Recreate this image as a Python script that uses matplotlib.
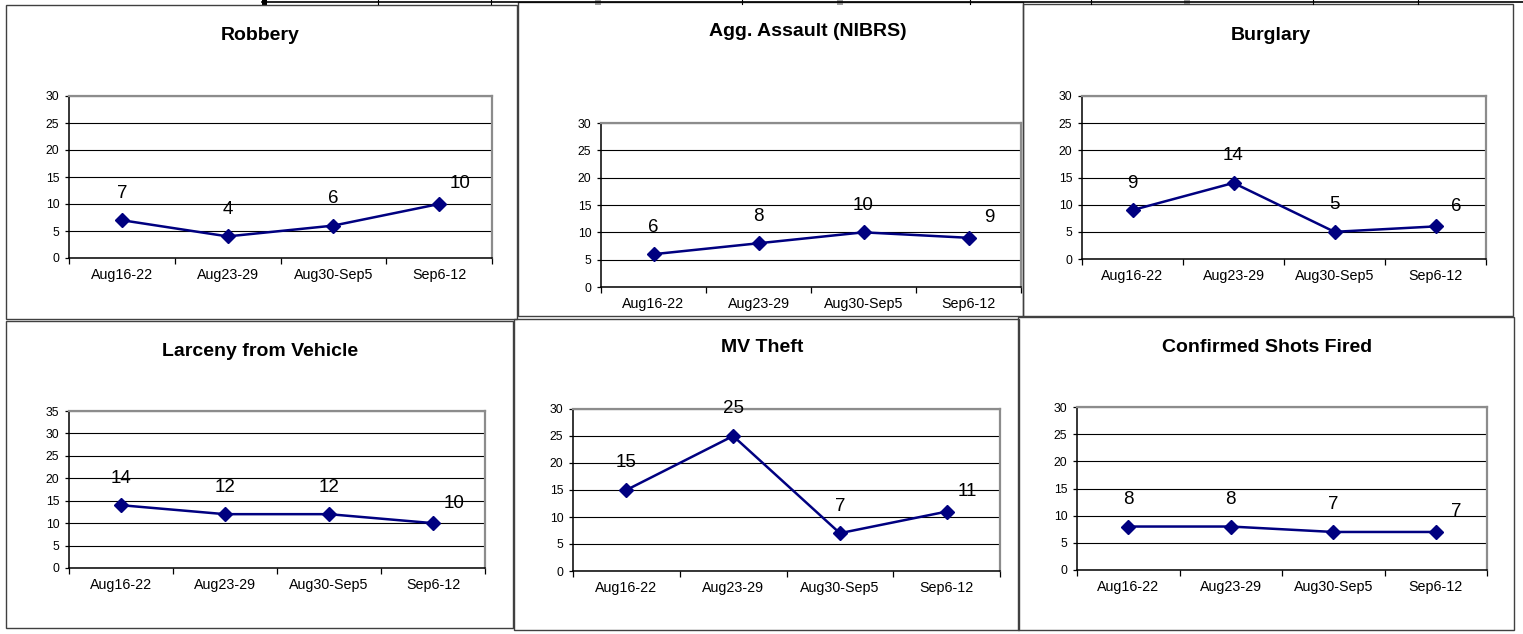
import matplotlib
matplotlib.use("Agg")
import matplotlib.pyplot as plt
from matplotlib.patches import Rectangle
from matplotlib.lines import Line2D

plt.rcParams['font.family'] = ['Liberation Sans', 'DejaVu Sans']

# ---- data ----
categories = ["Aug16-22", "Aug23-29", "Aug30-Sep5", "Sep6-12"]
titles = ["Robbery", "Agg. Assault (NIBRS)", "Burglary",
          "Larceny from Vehicle", "MV Theft", "Confirmed Shots Fired"]
robbery = [7, 4, 6, 10]
agg_assault = [6, 8, 10, 9]
burglary = [9, 14, 5, 6]
larceny_vehicle = [14, 12, 12, 10]
mv_theft = [15, 25, 7, 11]
shots_fired = [8, 8, 7, 7]
series = [robbery, agg_assault, burglary, larceny_vehicle, mv_theft, shots_fired]
y_max = [30, 30, 30, 35, 30, 30]

# ---- layout (pixels) ----
W, H = 1523, 634
DPI = 100
# panel boxes: (left, top, right, bottom)
boxes = [(6, 5, 517, 319), (518, 2, 1023, 316), (1023, 4, 1513, 316),
         (6, 321, 513, 628), (514, 319, 1019, 630), (1018, 317, 1514, 630)]
# plot areas: (left, top, right, bottom)
plots = [(69, 96, 492, 258), (601, 123, 1021, 287), (1082, 96, 1486, 259),
         (69, 411, 485, 568), (573, 409, 1000, 571), (1077, 407, 1487, 570)]
# title centers (x, y)
title_pos = [(260, 35), (808, 32), (1271, 36), (260, 352), (762, 348), (1267, 347)]

fig = plt.figure(figsize=(W / DPI, H / DPI), dpi=DPI)
fig.patch.set_facecolor('white')

def fx(p):
    return p / W

def fy(p):
    return 1 - p / H

# top artifact (table edge)
fig.add_artist(Line2D([fx(262), fx(1523)], [fy(2), fy(2)], color='black', lw=1.2))
fig.add_artist(Rectangle((fx(262), fy(5)), fx(5), 5 / H, facecolor='black', edgecolor='none'))
for xv in [378, 491, 742, 970, 1091, 1313, 1418]:
    fig.add_artist(Line2D([fx(xv), fx(xv)], [fy(0), fy(4)], color='black', lw=0.8))
for xv in [598, 840, 1187]:
    fig.add_artist(Rectangle((fx(xv - 3), fy(5)), fx(6), 5 / H, facecolor='#a0a0a0', edgecolor='none'))

navy = '#000080'

for i in range(6):
    bl, bt, br, bb = boxes[i]
    fig.add_artist(Rectangle((fx(bl), fy(bb)), (br - bl) / W, (bb - bt) / H,
                             fill=False, edgecolor='#404040', lw=1.0))
    pl, pt, pr, pb = plots[i]
    ax = fig.add_axes([fx(pl), fy(pb), (pr - pl) / W, (pb - pt) / H])
    x = list(range(len(categories)))
    vals = series[i]
    ax.plot(x, vals, color=navy, lw=1.8, marker='D', markersize=7.5,
            markerfacecolor=navy, markeredgecolor=navy, zorder=5, clip_on=False)
    for j, v in enumerate(vals):
        if j == len(vals) - 1:
            off = (21, 20)
        else:
            off = (0, 27)
        ax.annotate(str(v), (j, v), xytext=off, textcoords='offset pixels',
                    ha='center', va='center', fontsize=13.5, color='black', zorder=6)
    ax.set_xlim(-0.5, len(categories) - 0.5)
    ax.set_ylim(0, y_max[i])
    ax.set_yticks(range(0, y_max[i] + 1, 5))
    ax.set_xticks(x)
    ax.set_xticklabels(categories, fontsize=10.3)
    ax.set_xticks([k - 0.5 for k in range(len(categories) + 1)], minor=True)
    ax.tick_params(axis='x', which='major', length=0, pad=7)
    ax.tick_params(axis='x', which='minor', length=4, width=0.9, direction='out', color='black')
    ax.tick_params(axis='y', length=3, width=0.9, direction='out', labelsize=8.8, pad=4, color='black')
    ax.grid(axis='y', color='black', lw=0.8, zorder=1)
    ax.set_axisbelow(True)
    for s in ['top', 'right']:
        ax.spines[s].set_color('#8c8c8c')
        ax.spines[s].set_linewidth(1.6)
    for s in ['left', 'bottom']:
        ax.spines[s].set_color('black')
        ax.spines[s].set_linewidth(1.1)
    ax.set_facecolor('white')
    tx, ty = title_pos[i]
    fig.text(fx(tx), fy(ty), titles[i], ha='center', va='center',
             fontsize=14, fontweight='bold', color='black')

fig.savefig('out.png', dpi=DPI, facecolor='white')
